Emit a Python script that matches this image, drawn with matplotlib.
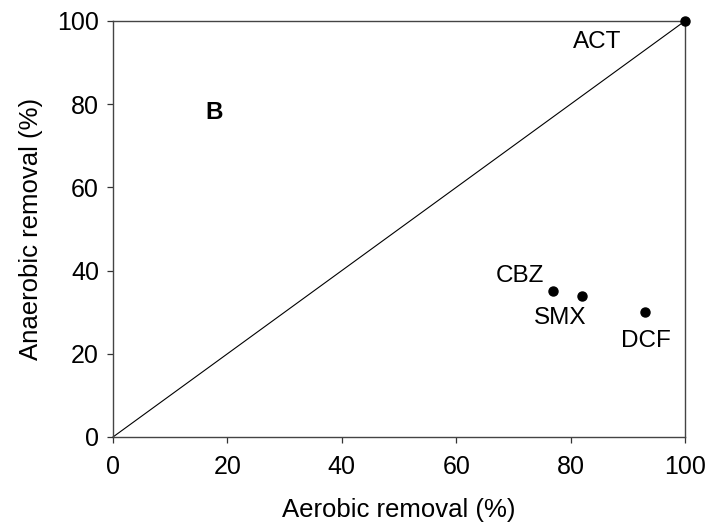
import numpy as np
import matplotlib
matplotlib.use('Agg')
import matplotlib.pyplot as plt

plt.rcParams['font.family'] = ['Liberation Sans', 'DejaVu Sans']

# aerobic vs anaerobic removal (%)
compounds = ['ACT', 'CBZ', 'SMX', 'DCF']
aerobic = [100, 77, 82, 93]
anaerobic = [100, 35, 34, 30]
# label positions (data units)
label_x = [84.6, 71.2, 78.1, 93.2]
label_y = [95.0, 38.7, 28.6, 23.1]

ticks = [0, 20, 40, 60, 80, 100]

fig = plt.figure(figsize=(7.08, 5.27), dpi=100)
ax = fig.add_axes([0.1596, 0.1708, 0.8079, 0.7894])

ax.plot([0, 100], [0, 100], color='black', lw=0.8, clip_on=False)
ax.plot(aerobic, anaerobic, 'o', color='black', ms=6.5, clip_on=False, zorder=5)

for name, lx, ly in zip(compounds, label_x, label_y):
    ax.text(lx, ly, name, fontsize=17.5, ha='center', va='center')

ax.text(17.7, 77.9, 'B', fontsize=17.5, fontweight='bold', ha='center', va='center')

ax.set_xlim(0, 100)
ax.set_ylim(0, 100)
ax.set_xticks(ticks)
ax.set_yticks(ticks)
ax.tick_params(direction='out', length=4, width=0.9, labelsize=18,
               colors='#333333', labelcolor='black')
ax.tick_params(axis='x', pad=9)
ax.tick_params(axis='y', pad=6)
for sp in ax.spines.values():
    sp.set_color('#444444')
    sp.set_linewidth(1.0)

ax.set_xlabel('Aerobic removal (%)', fontsize=18.5, labelpad=14)
ax.set_ylabel('Anaerobic removal (%)', fontsize=18.5, labelpad=10)

fig.savefig('out.png', dpi=100)
